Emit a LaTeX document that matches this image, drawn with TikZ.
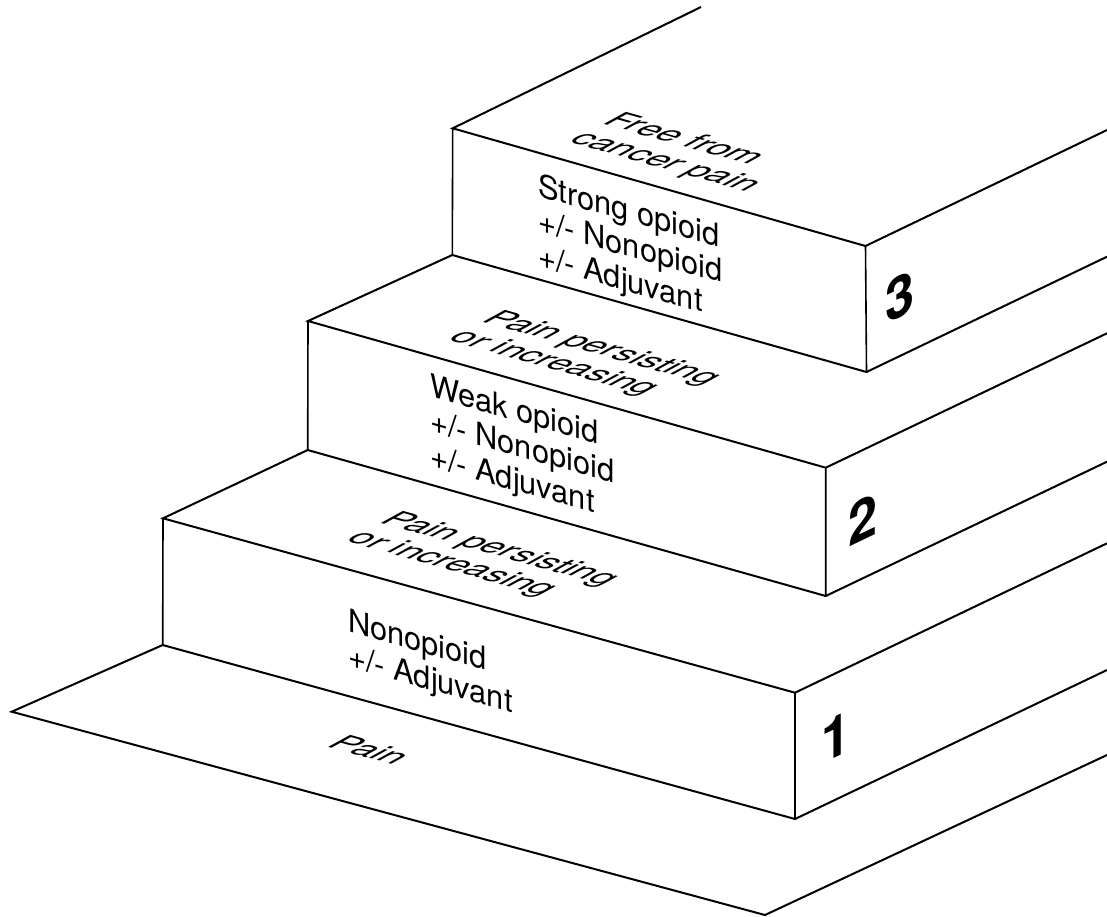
\documentclass[tikz,border=0pt]{standalone}
\usepackage{fontspec}
\setmainfont{TeX Gyre Heros}
\begin{document}
\begin{tikzpicture}[x=1pt, y=-1pt,
  edge/.style={line width=2pt, line join=miter},
  riser/.style={line width=1.6pt},
  frontlbl/.style={transform shape, cm={0.963,-0.27,0,1,(0,0)}, anchor=north west,
    inner sep=0pt, align=left, font=\fontsize{32}{35}\selectfont},
  toplbl/.style={transform shape, cm={0.963,-0.27,0.84,0.46,(0,0)}, anchor=north west,
    inner sep=0pt, align=left, font=\fontsize{36}{40}\selectfont},
  sidelbl/.style={transform shape, cm={0.901,0.433,0,1,(0,0)}, anchor=center,
    inner sep=0pt, font=\fontsize{58}{58}\selectfont\bfseries}]
\useasboundingbox (0,0) rectangle (1107,916);

% floor
\coordinate (fL) at (11.7,711.7);
\coordinate (fF) at (765,915);
\coordinate (fR) at (1107,755);
% step 1
\coordinate (s1a) at (163,518.3);
\coordinate (s1b) at (162.7,645);
\coordinate (s1c) at (795,692.7);
\coordinate (s1d) at (795,819);
\coordinate (s1e) at (307.7,450);
\coordinate (s1f) at (1107,543.3);
\coordinate (s1g) at (1107,670);
% step 2
\coordinate (s2a) at (308,321);
\coordinate (s2c) at (825.7,467.7);
\coordinate (s2d) at (825.7,596);
\coordinate (s2e) at (452.3,255);
\coordinate (s2f) at (1107,333.3);
\coordinate (s2g) at (1107,461.7);
% step 3
\coordinate (s3a) at (452.7,128.3);
\coordinate (s3c) at (865.5,246);
\coordinate (s3d) at (866.5,372);
\coordinate (s3e) at (701,7);
\coordinate (s3f) at (1107,130);
\coordinate (s3g) at (1107,256.7);

% floor outline
\draw[edge] (s1b) -- (fL) -- (fF) -- (fR);
% step 1
\draw[edge] (s1e) -- (s1a) -- (s1c) -- (s1f);
\draw[edge] (s1b) -- (s1d) -- (s1g);
\draw[riser] (s1a) -- (s1b) (s1c) -- (s1d);
% step 2
\draw[edge] (s2e) -- (s2a) -- (s2c) -- (s2f);
\draw[edge] (s1e) -- (s2d) -- (s2g);
\draw[riser] (s2a) -- (s1e) (s2c) -- (s2d);
% step 3
\draw[edge] (s3e) -- (s3a) -- (s3c) -- (s3f);
\draw[edge] (s2e) -- (s3d) -- (s3g);
\draw[riser] (s3a) -- (s2e) (s3c) -- (s3d);

% labels on the treads
\node[toplbl, anchor=base west] (tPain) at (325,746) {Pain};
\node[toplbl] (t1) at (400,510) {Pain persisting\\or increasing};
\node[toplbl] (t2) at (502,309) {Pain persisting\\or increasing};
\node[toplbl] (t3) at (623,111) {Free from\\cancer pain};

% labels on the risers
\node[frontlbl] (f1) at (348,608) {Nonopioid\\+/- Adjuvant};
\node[frontlbl] (f2) at (430,373) {Weak opioid\\+/- Nonopioid\\+/- Adjuvant};
\node[frontlbl] (f3) at (538,172) {Strong opioid\\+/- Nonopioid\\+/- Adjuvant};

% step numbers on the side faces
\node[sidelbl] (n1) at (835.7,736.7) {1};
\node[sidelbl] (n2) at (863,520) {2};
\node[sidelbl] (n3) at (900,297) {3};
\end{tikzpicture}
\end{document}
